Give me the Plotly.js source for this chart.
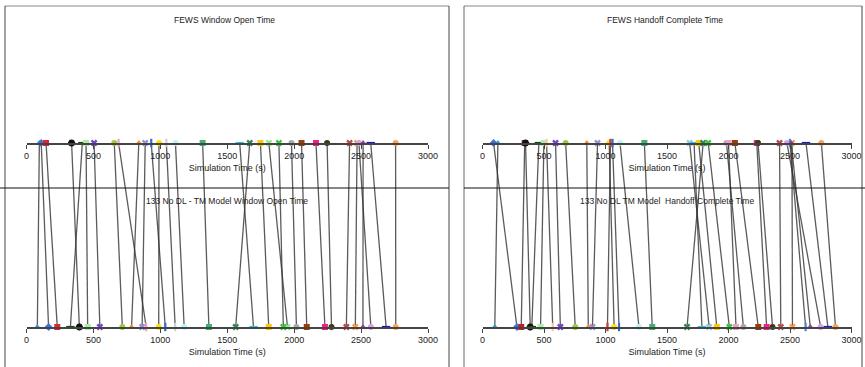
<!DOCTYPE html>
<html>
<head>
<meta charset="utf-8">
<script src="https://cdn.plot.ly/plotly-3.0.1.min.js"></script>
<style>html,body{margin:0;padding:0;background:#fff;}#chart{width:865px;height:367px;}</style>
</head>
<body>
<div id="chart"></div>
<script>
// ---- Data (simulation time, s) ----
const leftTitleTop = "FEWS Window Open Time";
const leftTitleBottom = "133 No DL - TM Model Window Open Time";
const rightTitleTop = "FEWS Handoff Complete Time";
const rightTitleBottom = "133 No DL TM Model  Handoff Complete Time";
const axisTitle = "Simulation Time (s)";
const tickValues = [0, 500, 1000, 1500, 2000, 2500, 3000];

const leftTop =    [96, 110, 146, 337, 417, 445, 505, 656, 688, 839, 887, 932, 990, 1045, 1113, 1316, 1593, 1668, 1748, 1811, 1886, 1980, 2055, 2163, 2246, 2414, 2470, 2484, 2515, 2572, 2758];
const leftBottom = [81, 165, 230, 395, 328, 457, 548, 716, 894, 785, 864, 1037, 988, 1111, 1178, 1363, 1696, 1563, 1810, 1950, 1919, 2017, 2094, 2230, 2279, 2390, 2457, 2573, 2514, 2687, 2759];
const leftColors = ['#1ca3dc','#3f6fe0','#e0252f','#111111','#0b4d0b','#a8eca8','#7a3fd8','#9acd32','#f3a0b8','#ff8c1a','#9b8fd6','#2f6be0','#ffe000','#d0d0d0','#bdf2f8','#3cb371','#2ec4f2','#2e8b57','#ffc800','#8fe88f','#32cd32','#a8a8a8','#a33a00','#ff1a8c','#3b3b12','#c04848','#ff9a4a','#d8a0e8','#9b3d8d','#1515e0','#ffa052'];
const leftSymbols = ['triangle-up','diamond','square','asterisk','line-ew','square','x','circle','line-ns','triangle-up','x','line-ns','circle','line-ns','circle','square','line-ew','x','square','x','x','circle','square','square','circle','x','x','circle','triangle-up','line-ew','circle'];

const rightTop =    [125, 90, 343, 350, 458, 499, 521, 594, 676, 848, 935, 1030, 1040, 1057, 1118, 1316, 1684, 1720, 1758, 1794, 1835, 1984, 2000, 2052, 2230, 2240, 2415, 2475, 2516, 2500, 2510, 2630, 2755];
const rightBottom = [100, 280, 315, 388, 401, 472, 571, 633, 754, 860, 894, 1070, 1016, 1110, 1272, 1380, 1843, 1784, 1905, 1663, 2007, 2121, 2061, 2242, 2310, 2358, 2425, 2749, 2520, 2627, 2665, 2808, 2870];
const rightColors = ['#1ca3dc','#3f6fe0','#c0202a','#111111','#0b4d0b','#a8eca8','#ffc8a0','#7a3fd8','#9acd32','#ff8c1a','#9b8fd6','#ffe000','#e03040','#2f6be0','#bdf2f8','#3cb371','#8ec8f0','#2ec4f2','#ffc800','#2e8b57','#32cd32','#a8a8a8','#f0a0c8','#a33a00','#ff1a8c','#3b3b12','#c04848','#d8a0e8','#ff9a4a','#3f8fe0','#9b3d8d','#1515e0','#ffa052'];
const rightSymbols = ['triangle-up','diamond','square','asterisk','line-ew','square','line-ns','x','circle','triangle-up','x','circle','line-ns','line-ns','circle','square','x','line-ew','square','x','x','circle','square','square','square','circle','x','circle','x','line-ns','triangle-up','line-ew','circle'];

// ---- Build traces ----
const lineSyms = new Set(['line-ew','line-ns','asterisk']);
function connectors(top, bottom, xa) {
  const xs = [], ys = [];
  top.forEach((t, i) => { xs.push(t, bottom[i], null); ys.push(1, 0, null); });
  return {type:'scatter', mode:'lines', x:xs, y:ys, xaxis:xa, yaxis:'y',
          line:{color:'rgba(50,50,50,0.8)', width:1.3}, hoverinfo:'skip', showlegend:false, cliponaxis:false};
}
function markers(vals, yv, colors, symbols, xa) {
  return {type:'scatter', mode:'markers', x:vals, y:vals.map(() => yv), xaxis:xa, yaxis:'y',
          marker:{color:colors, symbol:symbols, size:6,
                  line:{color:colors, width:symbols.map(s => lineSyms.has(s) ? 2.2 : 0)}},
          showlegend:false, cliponaxis:false};
}
const traces = [
  connectors(leftTop, leftBottom, 'x'),
  connectors(rightTop, rightBottom, 'x2'),
  markers(leftTop, 1, leftColors, leftSymbols, 'x3'),
  markers(leftBottom, 0, leftColors, leftSymbols, 'x'),
  markers(rightTop, 1, rightColors, rightSymbols, 'x4'),
  markers(rightBottom, 0, rightColors, rightSymbols, 'x2')
];

const W = 865, H = 367;
const py = px => (H - px) / H;
const pxx = px => px / W;
const tickFont = {family:'Liberation Sans, Arial, sans-serif', size:9, color:'#222'};
function xAxis(domain, extra) {
  return Object.assign({
    domain: domain, range:[0,3000], tickvals:tickValues, ticktext:tickValues.map(String),
    showgrid:false, zeroline:false, showline:true, linecolor:'#444', linewidth:1.5,
    ticks:'outside', ticklen:4, tickcolor:'#444', tickwidth:1, tickfont:tickFont,
    title:{text:axisTitle, font:tickFont, standoff:4}, fixedrange:true
  }, extra);
}
const dL = [pxx(26.5), pxx(428)];
const dR = [pxx(482.5), pxx(851.5)];
const annFont = {family:'Liberation Sans, Arial, sans-serif', size:8.5, color:'#222'};
function ann(text, x, y) {
  return {text:text, x:pxx(x), y:py(y), xref:'paper', yref:'paper', xanchor:'center', yanchor:'middle', showarrow:false, font:annFont};
}
const layout = {
  width:W, height:H, margin:{l:0,r:0,t:0,b:0},
  paper_bgcolor:'#fff', plot_bgcolor:'rgba(0,0,0,0)',
  showlegend:false,
  xaxis: xAxis(dL, {anchor:'y'}),
  xaxis2: xAxis(dR, {anchor:'y'}),
  xaxis3: xAxis(dL, {overlaying:'x', anchor:'free', position:py(143), side:'bottom'}),
  xaxis4: xAxis(dR, {overlaying:'x2', anchor:'free', position:py(143), side:'bottom'}),
  yaxis: {domain:[py(327), py(143)], range:[0,1], visible:false, fixedrange:true},
  annotations: [
    ann(leftTitleTop, 225, 20),
    ann(leftTitleBottom, 227, 201),
    ann(rightTitleTop, 665, 20),
    ann(rightTitleBottom, 667, 201)
  ],
  shapes: [
    {type:'line', xref:'paper', yref:'paper', x0:pxx(5), x1:pxx(449), y0:py(6), y1:py(6), line:{color:'#888', width:1}},
    {type:'line', xref:'paper', yref:'paper', x0:pxx(5), x1:pxx(5), y0:py(6), y1:0, line:{color:'#444', width:1}},
    {type:'line', xref:'paper', yref:'paper', x0:pxx(449), x1:pxx(449), y0:py(6), y1:0, line:{color:'#444', width:1}},
    {type:'line', xref:'paper', yref:'paper', x0:0, x1:pxx(449), y0:py(188), y1:py(188), line:{color:'#111', width:1.2}},
    {type:'line', xref:'paper', yref:'paper', x0:pxx(464), x1:pxx(862), y0:py(6), y1:py(6), line:{color:'#888', width:1}},
    {type:'line', xref:'paper', yref:'paper', x0:pxx(464), x1:pxx(464), y0:py(6), y1:0, line:{color:'#666', width:1}},
    {type:'line', xref:'paper', yref:'paper', x0:pxx(862), x1:pxx(862), y0:py(6), y1:0, line:{color:'#444', width:1}},
    {type:'line', xref:'paper', yref:'paper', x0:pxx(464), x1:1, y0:py(188), y1:py(188), line:{color:'#111', width:1.2}}
  ]
};
Plotly.newPlot('chart', traces, layout, {displayModeBar:false, staticPlot:true});
</script>
</body>
</html>
